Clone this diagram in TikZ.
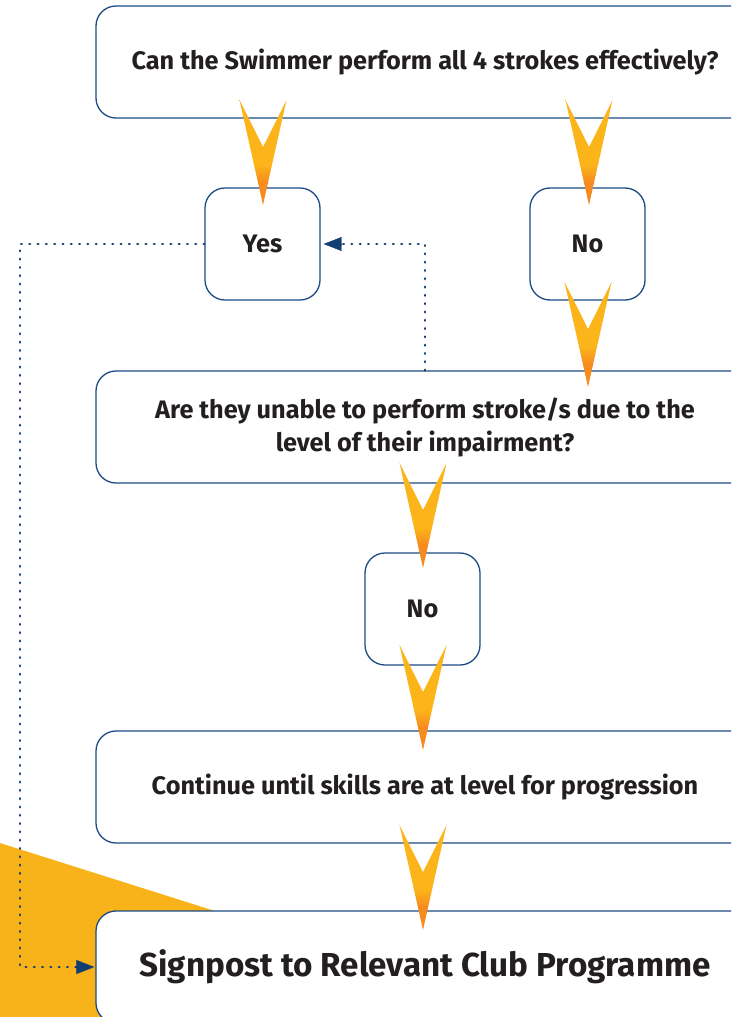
\documentclass[tikz,border=0pt]{standalone}
\usepackage{fontspec}
\setmainfont{Fira Sans}
\usetikzlibrary{arrows.meta}
\definecolor{boxblue}{HTML}{1D4C85}
\definecolor{dotblue}{HTML}{123E72}
\definecolor{chyellow}{HTML}{FBB41A}
\definecolor{chorange}{HTML}{F68B1F}
\definecolor{bgorange}{HTML}{F9B31A}
\definecolor{txt}{HTML}{231F20}
\pgfdeclareverticalshading{chevsh}{100bp}{color(0bp)=(chorange); color(36bp)=(chorange); color(44bp)=(chyellow); color(100bp)=(chyellow)}
\tikzset{
  wbox/.style={draw=boxblue, line width=1.3pt, fill=white, rounded corners=20pt, inner sep=0pt},
  bigbox/.style={wbox, minimum width=658pt, minimum height=112pt},
  smallbox/.style={wbox, minimum width=115pt, minimum height=112pt},
  lbl/.style={text=txt, font=\fontsize{25.3}{33}\selectfont\bfseries, align=center, inner sep=0pt},
  biglbl/.style={text=txt, font=\fontsize{33.2}{38}\selectfont\bfseries, align=center, inner sep=0pt},
  dotline/.style={draw=dotblue, line width=2.6pt, line cap=round, dash pattern=on 0.6pt off 7.7pt},
  tipblue/.style={-{Triangle[length=18pt, width=14pt, fill=dotblue, color=dotblue]}},
}
\newcommand\chevron[2]{%
  \shade[shading=chevsh] (#1-23.5,#2-105) -- (#1,#2-58) -- (#1+23.5,#2-105) -- (#1,#2) -- cycle;}
\begin{document}
\begin{tikzpicture}[x=1pt,y=-1pt]
\useasboundingbox (0,0) rectangle (731,1017);
\clip (0,0) rectangle (731,1017);
\fill[bgorange] (0,843) -- (215,911) -- (215,1017) -- (0,1017) -- cycle;
% boxes
\node[bigbox] (q1) at (425,62) {};
\node[smallbox] (yes) at (262.5,244) {};
\node[smallbox] (no1) at (587.5,244) {};
\node[bigbox] (q2) at (425,427) {};
\node[smallbox] (no2) at (422.5,609) {};
\node[bigbox] (cont) at (425,787) {};
\node[bigbox] (sign) at (425,967) {};
% labels
\node[lbl] (t1) at (q1) {Can the Swimmer perform all 4 strokes effectively?};
\node[lbl] (t2) at (yes) {Yes};
\node[lbl] (t3) at (no1) {No};
\node[lbl] (t4) at (q2) {Are they unable to perform stroke/s due to the\\level of their impairment?};
\node[lbl] (t5) at (no2) {No};
\node[lbl] (t6) at (cont) {Continue until skills are at level for progression};
\node[biglbl] (t7) at (sign) {Signpost to Relevant Club Programme};
% chevrons
\chevron{263}{205}
\chevron{589}{205}
\chevron{588}{387}
\chevron{423}{568}
\chevron{423}{750}
\chevron{423}{930}
% dotted connectors
\draw[dotline] (yes.west) -- (20,244) |- ([xshift=-17pt]sign.west);
\draw[tipblue] ([xshift=-17pt]sign.west) -- ([xshift=-1pt]sign.west);
\draw[dotline] (q2.north) |- ([xshift=20pt]yes.east);
\draw[tipblue] ([xshift=20pt]yes.east) -- ([xshift=3pt]yes.east);
\end{tikzpicture}
\end{document}
